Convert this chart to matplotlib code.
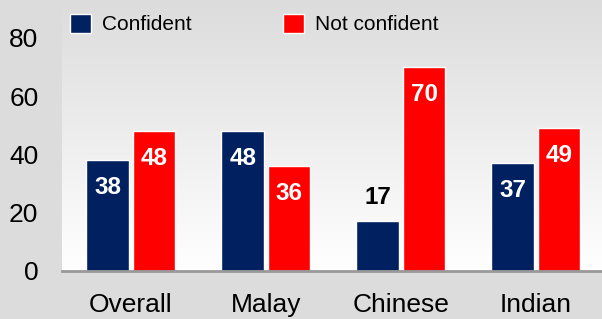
import numpy as np
import matplotlib.pyplot as plt
from matplotlib.patches import Patch

## data
groups = ["Overall", "Malay", "Chinese", "Indian"]
confident = [38, 48, 17, 37]
not_confident = [48, 36, 70, 49]
series_names = ["Confident", "Not confident"]

navy = "#002060"
red = "#ff0000"
bg = "#dcdcdc"

plt.rcParams['font.family'] = ['Liberation Sans', 'DejaVu Sans']

fig = plt.figure(figsize=(6.02, 3.19), dpi=100, facecolor=bg)
ax = fig.add_axes([0.103, 0.1505, 0.897, 0.8495])

ymax = 93
## gray-to-white gradient behind the bars
grad = np.linspace(0, 1, 256).reshape(-1, 1)
ax.imshow(grad, extent=[-0.51, 3.49, 0, ymax], aspect="auto", origin="upper",
          cmap=plt.matplotlib.colors.LinearSegmentedColormap.from_list("g", [bg, "#ffffff"]),
          zorder=0)

x = np.arange(len(groups))
w = 0.315
off = 0.172
b1 = ax.bar(x - off, confident, w, color=navy, edgecolor="white", linewidth=1, zorder=2)
b2 = ax.bar(x + off, not_confident, w, color=red, edgecolor="white", linewidth=1, zorder=2)

## value labels, inside the bar unless the bar is too short
for bars, vals in [(b1, confident), (b2, not_confident)]:
    for b, v in zip(bars, vals):
        cx = b.get_x() + b.get_width() / 2
        if v < 25:
            ax.text(cx, v + 8.3, str(v), ha="center", va="center", color="black",
                    fontsize=17.5, fontweight="bold", zorder=3)
        else:
            ax.text(cx, v - 9.5, str(v), ha="center", va="center", color="white",
                    fontsize=17.5, fontweight="bold", zorder=3)

ax.set_xlim(-0.51, 3.49)
ax.set_ylim(0, ymax)
ax.set_yticks([0, 20, 40, 60, 80])
ax.set_xticks(x)
ax.set_xticklabels(groups)
ax.tick_params(axis="both", length=0, labelsize=19)
ax.tick_params(axis="y", pad=17)
ax.tick_params(axis="x", pad=16)
for s in ["top", "right", "left"]:
    ax.spines[s].set_visible(False)
ax.spines["bottom"].set_color("#999999")
ax.spines["bottom"].set_linewidth(2)
ax.set_facecolor(bg)

handles = [Patch(facecolor=navy, edgecolor="white", linewidth=1),
           Patch(facecolor=red, edgecolor="white", linewidth=1)]
fig.legend(handles, series_names, loc="upper left", bbox_to_anchor=(0.085, 1.015),
           ncol=2, frameon=False, fontsize=15, handlelength=1.0, handleheight=1.0,
           columnspacing=4.4, handletextpad=0.53)

plt.savefig("out.png", dpi=100, facecolor=bg)
